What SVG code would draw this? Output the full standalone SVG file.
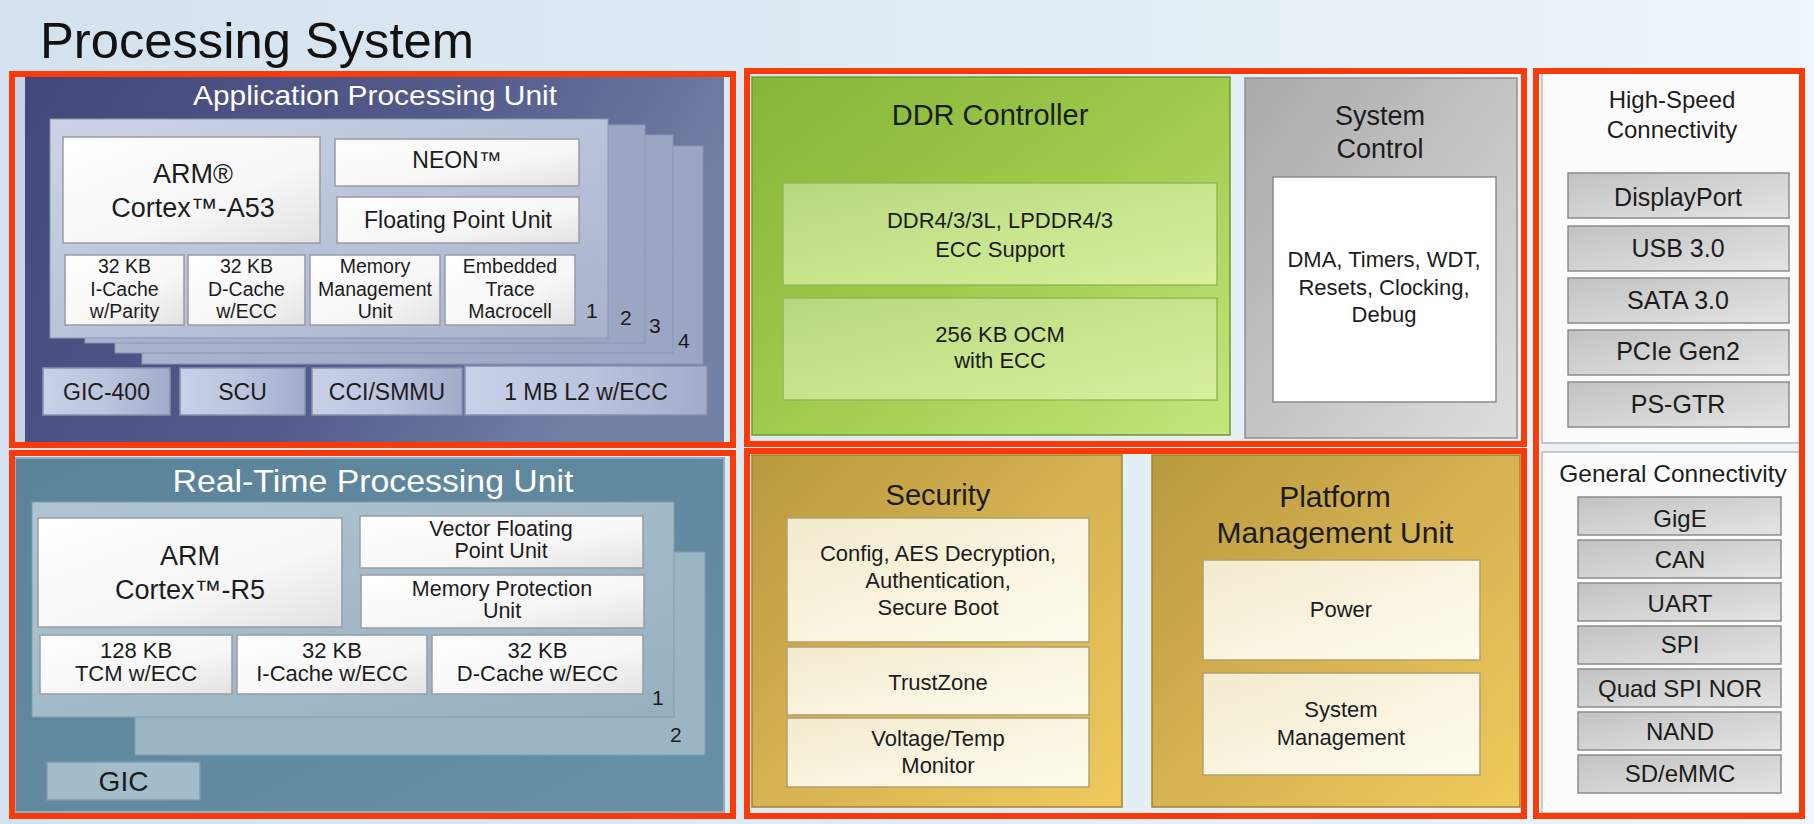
<svg xmlns="http://www.w3.org/2000/svg" width="1814" height="824" viewBox="0 0 1814 824">
<defs>
<linearGradient id="bg" x1="0" y1="0" x2="1" y2="0"><stop offset="0" stop-color="#d3e2ee"/><stop offset="1" stop-color="#eef5fa"/></linearGradient>
<linearGradient id="apu" x1="0" y1="0" x2="1" y2="0.3"><stop offset="0" stop-color="#43487a"/><stop offset="0.6" stop-color="#545c8c"/><stop offset="1" stop-color="#7381a6"/></linearGradient>
<linearGradient id="apuCore" x1="0" y1="0" x2="1" y2="1"><stop offset="0" stop-color="#ccd3e6"/><stop offset="1" stop-color="#a9b3cc"/></linearGradient>
<linearGradient id="apuBack" x1="0" y1="0" x2="1" y2="0"><stop offset="0" stop-color="#aab4cd"/><stop offset="1" stop-color="#9ba6c2"/></linearGradient>
<linearGradient id="apuBtn" x1="0" y1="0" x2="1" y2="0"><stop offset="0" stop-color="#c9d0e8"/><stop offset="0.5" stop-color="#bcc4de"/><stop offset="1" stop-color="#a2abc9"/></linearGradient>
<linearGradient id="white" x1="0" y1="0" x2="1" y2="1"><stop offset="0" stop-color="#ffffff"/><stop offset="0.6" stop-color="#f7f7f7"/><stop offset="1" stop-color="#e2e2e2"/></linearGradient>
<linearGradient id="rpu" x1="0" y1="0" x2="1" y2="1"><stop offset="0" stop-color="#5a8298"/><stop offset="1" stop-color="#6890a6"/></linearGradient>
<linearGradient id="rpuCore" x1="0" y1="0" x2="1" y2="1"><stop offset="0" stop-color="#afc5d2"/><stop offset="1" stop-color="#97b0bf"/></linearGradient>
<linearGradient id="ddr" x1="0" y1="0" x2="1" y2="1"><stop offset="0" stop-color="#86b538"/><stop offset="0.5" stop-color="#9fcb4c"/><stop offset="1" stop-color="#c4e67c"/></linearGradient>
<linearGradient id="ddrIn" x1="0" y1="0" x2="1" y2="1"><stop offset="0" stop-color="#b7d87e"/><stop offset="1" stop-color="#d9f09c"/></linearGradient>
<linearGradient id="sys" x1="0" y1="0" x2="1" y2="1"><stop offset="0" stop-color="#a9a9a9"/><stop offset="1" stop-color="#dedede"/></linearGradient>
<linearGradient id="gold" x1="0" y1="0" x2="1" y2="1"><stop offset="0" stop-color="#b89a3e"/><stop offset="0.5" stop-color="#d6b252"/><stop offset="1" stop-color="#f0ca5c"/></linearGradient>
<linearGradient id="cream" x1="0" y1="0" x2="1" y2="1"><stop offset="0" stop-color="#f3ebcf"/><stop offset="1" stop-color="#fffcee"/></linearGradient>
<linearGradient id="btn" x1="0" y1="0" x2="1" y2="1"><stop offset="0" stop-color="#c2c2c2"/><stop offset="1" stop-color="#e4e4e4"/></linearGradient>
<style>
.red{fill:none;stroke:#fb3a0a;stroke-width:6}
.t{font-family:"Liberation Sans",Arial,sans-serif;fill:#1c1c1c;text-anchor:middle}
.w{fill:#ffffff}
.box{stroke:#9a9aa6;stroke-width:1.5}
.num{font-family:"Liberation Sans",Arial,sans-serif;fill:#1c1c1c;font-size:21px}
</style>
</defs>

<rect x="0" y="0" width="1814" height="824" fill="url(#bg)"/>
<text x="40" y="58" font-family="Liberation Sans, Arial, sans-serif" font-size="50" fill="#111" textLength="434" lengthAdjust="spacingAndGlyphs">Processing System</text>

<g id="apu">
<rect x="15" y="77" width="10" height="366" fill="#c6d6e6"/>
<rect x="25" y="77" width="699" height="366" fill="url(#apu)"/>
<text class="t w" x="375" y="105" font-size="28" textLength="364" lengthAdjust="spacingAndGlyphs">Application Processing Unit</text>
<rect x="142" y="146" width="561" height="218" fill="url(#apuBack)" stroke="#8b95b3" stroke-width="1"/>
<rect x="115" y="135" width="558" height="218" fill="url(#apuBack)" stroke="#8b95b3" stroke-width="1"/>
<rect x="85" y="125" width="560" height="218" fill="url(#apuBack)" stroke="#8b95b3" stroke-width="1"/>
<rect x="50" y="119" width="558" height="219" fill="url(#apuCore)" stroke="#8b95b3" stroke-width="1"/>
<text class="num" x="586" y="318">1</text>
<text class="num" x="620" y="325">2</text>
<text class="num" x="649" y="333">3</text>
<text class="num" x="678" y="348">4</text>
<rect class="box" x="63" y="137" width="257" height="106" fill="url(#white)"/>
<text class="t" x="193" y="183" font-size="27">ARM®</text>
<text class="t" x="193" y="217" font-size="27">Cortex™-A53</text>
<rect class="box" x="335" y="139" width="244" height="47" fill="url(#white)"/>
<text class="t" x="457" y="168" font-size="23">NEON™</text>
<rect class="box" x="337" y="197" width="242" height="46" fill="url(#white)"/>
<text class="t" x="458" y="228" font-size="23">Floating Point Unit</text>
<rect class="box" x="65" y="255" width="119" height="70" fill="url(#white)"/>
<text class="t" x="124.5" y="273" font-size="19.5">32 KB</text>
<text class="t" x="124.5" y="296" font-size="19.5">I-Cache</text>
<text class="t" x="124.5" y="318" font-size="19.5">w/Parity</text>
<rect class="box" x="188" y="255" width="117" height="70" fill="url(#white)"/>
<text class="t" x="246.5" y="273" font-size="19.5">32 KB</text>
<text class="t" x="246.5" y="296" font-size="19.5">D-Cache</text>
<text class="t" x="246.5" y="318" font-size="19.5">w/ECC</text>
<rect class="box" x="310" y="255" width="130" height="70" fill="url(#white)"/>
<text class="t" x="375" y="273" font-size="19.5">Memory</text>
<text class="t" x="375" y="296" font-size="19.5">Management</text>
<text class="t" x="375" y="318" font-size="19.5">Unit</text>
<rect class="box" x="445" y="255" width="130" height="70" fill="url(#white)"/>
<text class="t" x="510" y="273" font-size="19.5">Embedded</text>
<text class="t" x="510" y="296" font-size="19.5">Trace</text>
<text class="t" x="510" y="318" font-size="19.5">Macrocell</text>
<rect x="43" y="368" width="127" height="47" fill="url(#apuBtn)" stroke="#8790b0" stroke-width="1.5"/>
<text class="t" x="106.5" y="400" font-size="23" fill="#2a2a3a">GIC-400</text>
<rect x="180" y="368" width="125" height="47" fill="url(#apuBtn)" stroke="#8790b0" stroke-width="1.5"/>
<text class="t" x="242.5" y="400" font-size="23">SCU</text>
<rect x="312" y="368" width="150" height="47" fill="url(#apuBtn)" stroke="#8790b0" stroke-width="1.5"/>
<text class="t" x="387" y="400" font-size="23">CCI/SMMU</text>
<rect x="465" y="366" width="242" height="49" fill="url(#apuBtn)" stroke="#8790b0" stroke-width="1.5"/>
<text class="t" x="586" y="400" font-size="23">1 MB L2 w/ECC</text>
</g>

<g id="rpu">
<rect x="15" y="458" width="709" height="354" fill="url(#rpu)" stroke="#8fb0c2" stroke-width="2"/>
<text class="t w" x="373" y="492" font-size="32" textLength="401" lengthAdjust="spacingAndGlyphs">Real-Time Processing Unit</text>
<rect x="135" y="552" width="570" height="203" fill="#9bb5c3" stroke="#7f9cad" stroke-width="1"/>
<rect x="32" y="502" width="642" height="215" fill="url(#rpuCore)" stroke="#7f9cad" stroke-width="1"/>
<text class="num" x="652" y="705" font-size="22">1</text>
<text class="num" x="670" y="742" font-size="22">2</text>
<rect class="box" x="38" y="518" width="304" height="109" fill="url(#white)"/>
<text class="t" x="190" y="565" font-size="27">ARM</text>
<text class="t" x="190" y="599" font-size="27">Cortex™-R5</text>
<rect class="box" x="360" y="516" width="283" height="52" fill="url(#white)"/>
<text class="t" x="501" y="536" font-size="21.5">Vector Floating</text>
<text class="t" x="501" y="558" font-size="21.5">Point Unit</text>
<rect class="box" x="361" y="575" width="283" height="53" fill="url(#white)"/>
<text class="t" x="502" y="596" font-size="21.5">Memory Protection</text>
<text class="t" x="502" y="618" font-size="21.5">Unit</text>
<rect class="box" x="40" y="635" width="192" height="59" fill="url(#white)"/>
<text class="t" x="136" y="658" font-size="22">128 KB</text>
<text class="t" x="136" y="681" font-size="22">TCM w/ECC</text>
<rect class="box" x="237" y="635" width="190" height="59" fill="url(#white)"/>
<text class="t" x="332" y="658" font-size="22">32 KB</text>
<text class="t" x="332" y="681" font-size="22">I-Cache w/ECC</text>
<rect class="box" x="432" y="635" width="211" height="59" fill="url(#white)"/>
<text class="t" x="537.5" y="658" font-size="22">32 KB</text>
<text class="t" x="537.5" y="681" font-size="22">D-Cache w/ECC</text>
<rect x="47" y="762" width="153" height="38" fill="#a3bcca" stroke="#7f9cad" stroke-width="1.5"/>
<text class="t" x="123.5" y="791" font-size="28">GIC</text>
</g>

<g id="ddr">
<rect x="752" y="77" width="478" height="358" fill="url(#ddr)" stroke="#6f9a2e" stroke-width="1.5"/>
<text class="t" x="990" y="125" font-size="29">DDR Controller</text>
<rect x="783" y="183" width="434" height="102" fill="url(#ddrIn)" stroke="#94b85a" stroke-width="1.5"/>
<text class="t" x="1000" y="228" font-size="22">DDR4/3/3L, LPDDR4/3</text>
<text class="t" x="1000" y="257" font-size="22">ECC Support</text>
<rect x="783" y="298" width="434" height="102" fill="url(#ddrIn)" stroke="#94b85a" stroke-width="1.5"/>
<text class="t" x="1000" y="342" font-size="22">256 KB OCM</text>
<text class="t" x="1000" y="368" font-size="22">with ECC</text>
</g>

<g id="sysctrl">
<rect x="1245" y="78" width="272" height="360" fill="url(#sys)" stroke="#909090" stroke-width="1.5"/>
<text class="t" x="1380" y="125" font-size="27">System</text>
<text class="t" x="1380" y="158" font-size="27">Control</text>
<rect x="1273" y="177" width="223" height="225" fill="#ffffff" stroke="#8a8a8a" stroke-width="1.5"/>
<text class="t" x="1384" y="267" font-size="22">DMA, Timers, WDT,</text>
<text class="t" x="1384" y="295" font-size="22">Resets, Clocking,</text>
<text class="t" x="1384" y="322" font-size="22">Debug</text>
</g>

<g id="security">
<rect x="752" y="455" width="370" height="352" fill="url(#gold)" stroke="#a08532" stroke-width="1.5"/>
<text class="t" x="938" y="505" font-size="29">Security</text>
<rect x="787" y="518" width="302" height="124" fill="url(#cream)" stroke="#b4a070" stroke-width="1.5"/>
<text class="t" x="938" y="561" font-size="22">Config, AES Decryption,</text>
<text class="t" x="938" y="588" font-size="22">Authentication,</text>
<text class="t" x="938" y="615" font-size="22">Secure Boot</text>
<rect x="787" y="647" width="302" height="68" fill="url(#cream)" stroke="#b4a070" stroke-width="1.5"/>
<text class="t" x="938" y="690" font-size="22">TrustZone</text>
<rect x="787" y="718" width="302" height="69" fill="url(#cream)" stroke="#b4a070" stroke-width="1.5"/>
<text class="t" x="938" y="746" font-size="22">Voltage/Temp</text>
<text class="t" x="938" y="773" font-size="22">Monitor</text>
</g>

<g id="pmu">
<rect x="1152" y="455" width="368" height="352" fill="url(#gold)" stroke="#a08532" stroke-width="1.5"/>
<text class="t" x="1335" y="507" font-size="30">Platform</text>
<text class="t" x="1335" y="543" font-size="30">Management Unit</text>
<rect x="1203" y="560" width="277" height="100" fill="url(#cream)" stroke="#b4a070" stroke-width="1.5"/>
<text class="t" x="1341" y="617" font-size="22">Power</text>
<rect x="1203" y="673" width="277" height="102" fill="url(#cream)" stroke="#b4a070" stroke-width="1.5"/>
<text class="t" x="1341" y="717" font-size="22">System</text>
<text class="t" x="1341" y="745" font-size="22">Management</text>
</g>

<g id="highspeed">
<rect x="1542" y="73" width="258" height="370" fill="#fcfcfc" stroke="#b8b8b8" stroke-width="1.5"/>
<text class="t" x="1672" y="108" font-size="24">High-Speed</text>
<text class="t" x="1672" y="138" font-size="24">Connectivity</text>
<g stroke="#8c8c8c" stroke-width="1.5" fill="url(#btn)">
<rect x="1568" y="173" width="221" height="45"/>
<rect x="1568" y="226" width="221" height="45"/>
<rect x="1568" y="278" width="221" height="45"/>
<rect x="1568" y="330" width="221" height="45"/>
<rect x="1568" y="382" width="221" height="45"/>
</g>
<text class="t" x="1678" y="206" font-size="25">DisplayPort</text>
<text class="t" x="1678" y="257" font-size="25">USB 3.0</text>
<text class="t" x="1678" y="309" font-size="25">SATA 3.0</text>
<text class="t" x="1678" y="360" font-size="25">PCIe Gen2</text>
<text class="t" x="1678" y="413" font-size="25">PS-GTR</text>
</g>

<g id="general">
<rect x="1542" y="452" width="258" height="361" fill="#fcfcfc" stroke="#b8b8b8" stroke-width="1.5"/>
<text class="t" x="1673" y="482" font-size="24.5">General Connectivity</text>
<g stroke="#8c8c8c" stroke-width="1.5" fill="url(#btn)">
<rect x="1578" y="497" width="203" height="38"/>
<rect x="1578" y="540" width="203" height="38"/>
<rect x="1578" y="583" width="203" height="38"/>
<rect x="1578" y="626" width="203" height="38"/>
<rect x="1578" y="669" width="203" height="38"/>
<rect x="1578" y="712" width="203" height="38"/>
<rect x="1578" y="755" width="203" height="38"/>
</g>
<text class="t" x="1680" y="527" font-size="24">GigE</text>
<text class="t" x="1680" y="568" font-size="24">CAN</text>
<text class="t" x="1680" y="612" font-size="24">UART</text>
<text class="t" x="1680" y="653" font-size="24">SPI</text>
<text class="t" x="1680" y="697" font-size="24">Quad SPI NOR</text>
<text class="t" x="1680" y="740" font-size="24">NAND</text>
<text class="t" x="1680" y="782" font-size="24">SD/eMMC</text>
</g>

<g id="connectors">
<rect class="red" x="12" y="74" width="721" height="371"/>
<rect class="red" x="12" y="453" width="721" height="363"/>
<rect class="red" x="747" y="71" width="777" height="373"/>
<rect class="red" x="747" y="451" width="777" height="365"/>
<rect class="red" x="1536" y="71" width="266" height="745"/>
</g>
</svg>
